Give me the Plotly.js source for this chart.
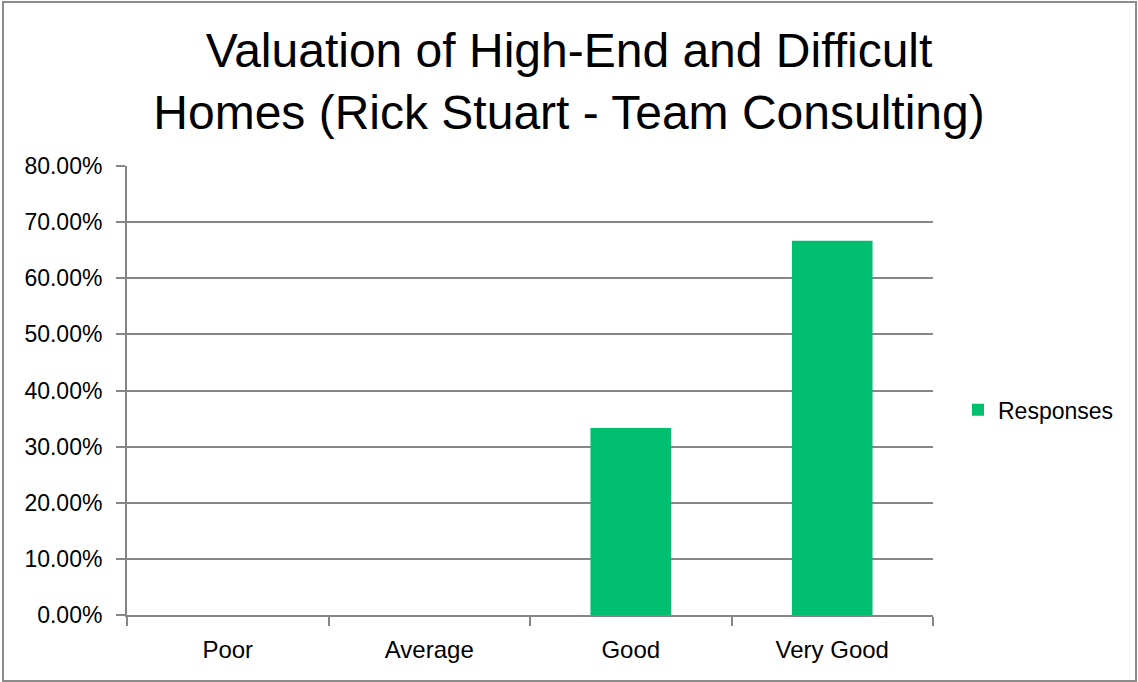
<!DOCTYPE html>
<html>
<head>
<meta charset="utf-8">
<script src="https://cdn.plot.ly/plotly-3.0.1.min.js"></script>
<style>
html,body{margin:0;padding:0;background:#fff;}
#wrap{position:relative;width:1138px;height:682px;}
#chart{width:1138px;height:682px;}
#frame{position:absolute;left:2px;top:1px;width:1131px;height:677px;border:2px solid #8c8c8c;pointer-events:none;}
</style>
</head>
<body>
<div id="wrap"><div id="chart"></div><div id="frame"></div></div>
<script>
var categories = ["Poor", "Average", "Good", "Very Good"];
var responses = [0, 0, 0.3333, 0.6667];
var seriesName = "Responses";
var titleText = "Valuation of High-End and Difficult<br>Homes (Rick Stuart - Team Consulting)";

var fam = "Liberation Sans, Arial, sans-serif";

Plotly.newPlot("chart", [{
  type: "bar",
  x: categories,
  y: responses,
  name: seriesName,
  marker: {color: "#00BF6F"},
  width: 0.4,
  showlegend: true
}], {
  width: 1138, height: 682,
  margin: {l: 127, r: 205, t: 166, b: 67},
  paper_bgcolor: "#fff", plot_bgcolor: "#fff",
  title: {text: titleText, font: {family: fam, size: 48, color: "#000"},
          x: 0.5, xref: "container", xanchor: "center", y: 1 - 67/682, yref: "container", yanchor: "middle"},
  xaxis: {
    type: "category",
    tickfont: {family: fam, size: 24, color: "#000"},
    ticks: "outside", tickson: "boundaries", ticklen: 9, tickwidth: 2, tickcolor: "#868686",
    ticklabelstandoff: 12,
    showline: true, linecolor: "#868686", linewidth: 2,
    showgrid: false, zeroline: false, fixedrange: true
  },
  yaxis: {
    range: [0, 0.8], dtick: 0.1, tickformat: ".2%",
    tickfont: {family: fam, size: 23, color: "#000"},
    ticks: "outside", ticklen: 9, tickwidth: 2, tickcolor: "#868686",
    ticklabelstandoff: 9,
    showline: true, linecolor: "#868686", linewidth: 2,
    showgrid: true, gridcolor: "#868686", gridwidth: 2,
    zeroline: false, fixedrange: true
  },
  legend: {x: 1.031, xanchor: "left", y: 0.457, yanchor: "middle",
           font: {family: fam, size: 23, color: "#000"},
           itemwidth: 30},
  bargap: 0.6
}, {displayModeBar: false, staticPlot: true});
</script>
</body>
</html>
